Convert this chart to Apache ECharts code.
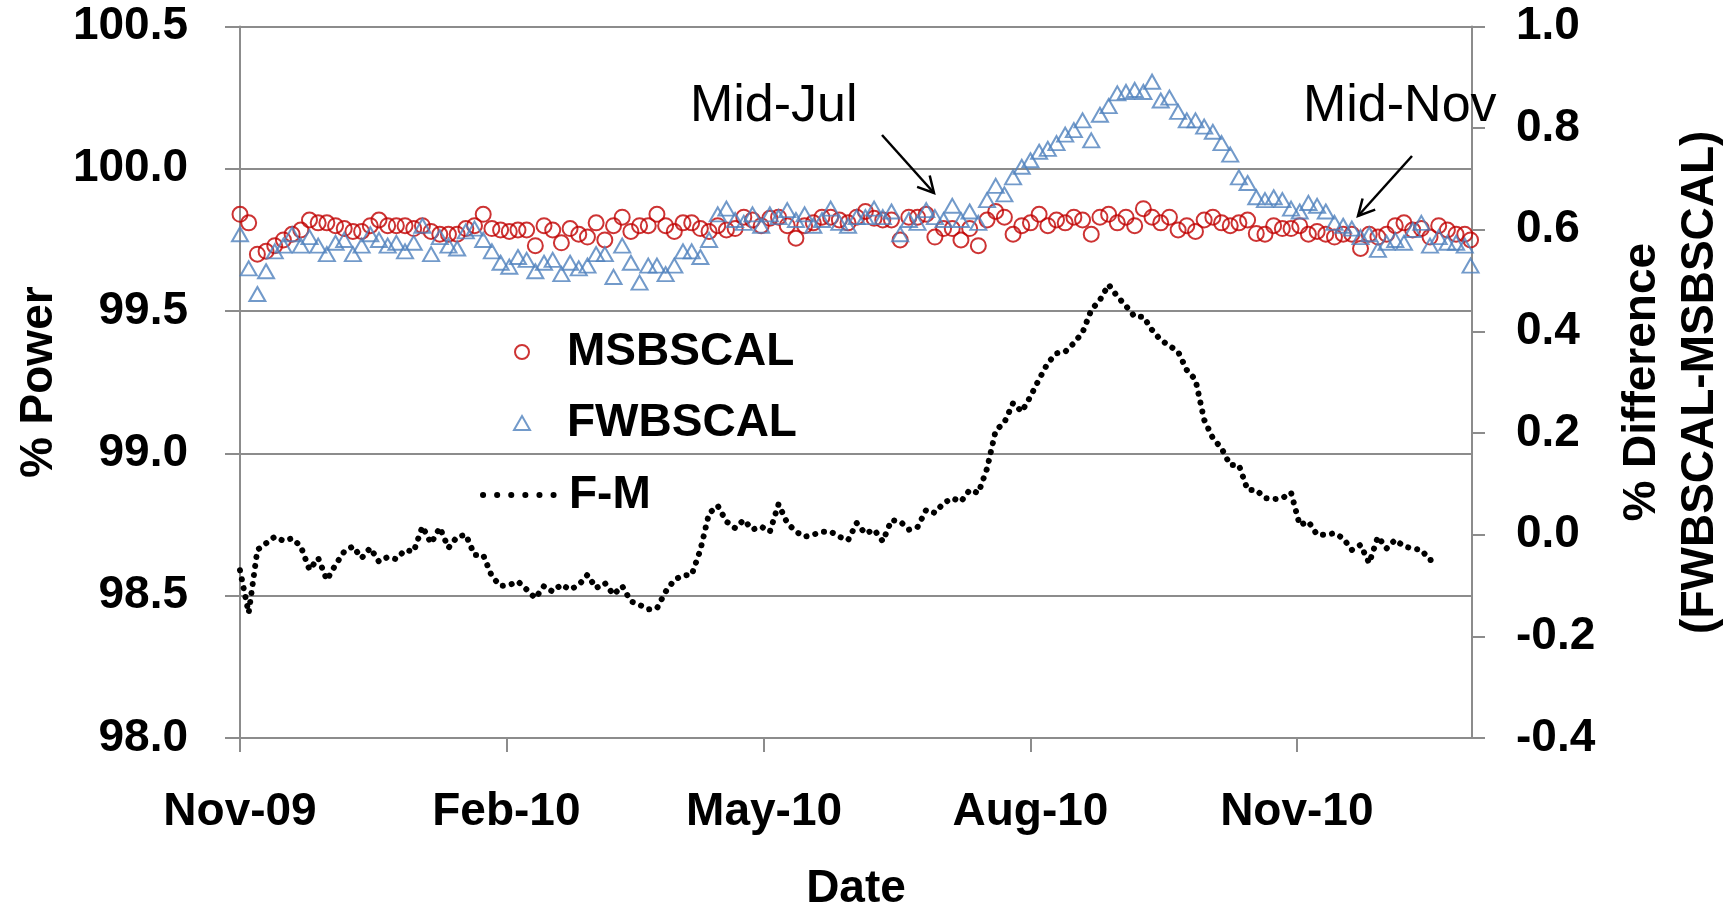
<!DOCTYPE html>
<html>
<head>
<meta charset="utf-8">
<script src="https://cdn.jsdelivr.net/npm/echarts@6/dist/echarts.min.js"></script>
<style>
html,body{margin:0;padding:0;background:#fff;}
#chart{width:1736px;height:909px;}
</style>
</head>
<body>
<div id="chart"></div>
<script>
// ---- data ----
const dates = [
'2009-11-01','2009-11-04','2009-11-07','2009-11-10','2009-11-13','2009-11-16','2009-11-19','2009-11-22','2009-11-25','2009-11-28',
'2009-12-01','2009-12-04','2009-12-07','2009-12-10','2009-12-13','2009-12-16','2009-12-19','2009-12-22','2009-12-25','2009-12-28','2009-12-31',
'2010-01-03','2010-01-06','2010-01-09','2010-01-12','2010-01-15','2010-01-18','2010-01-21','2010-01-24','2010-01-27','2010-01-30',
'2010-02-02','2010-02-05','2010-02-08','2010-02-11','2010-02-14','2010-02-17','2010-02-20','2010-02-23','2010-02-26',
'2010-03-01','2010-03-04','2010-03-07','2010-03-10','2010-03-13','2010-03-16','2010-03-19','2010-03-22','2010-03-25','2010-03-28','2010-03-31',
'2010-04-03','2010-04-06','2010-04-09','2010-04-12','2010-04-15','2010-04-18','2010-04-21','2010-04-24','2010-04-27','2010-04-30',
'2010-05-03','2010-05-06','2010-05-09','2010-05-12','2010-05-15','2010-05-18','2010-05-21','2010-05-24','2010-05-27','2010-05-30',
'2010-06-02','2010-06-05','2010-06-08','2010-06-11','2010-06-14','2010-06-17','2010-06-20','2010-06-23','2010-06-26','2010-06-29',
'2010-07-02','2010-07-05','2010-07-08','2010-07-11','2010-07-14','2010-07-17','2010-07-20','2010-07-23','2010-07-26','2010-07-29',
'2010-08-01','2010-08-04','2010-08-07','2010-08-10','2010-08-13','2010-08-16','2010-08-19','2010-08-22','2010-08-25','2010-08-28','2010-08-31',
'2010-09-03','2010-09-06','2010-09-09','2010-09-12','2010-09-15','2010-09-18','2010-09-21','2010-09-24','2010-09-27','2010-09-30',
'2010-10-03','2010-10-06','2010-10-09','2010-10-12','2010-10-15','2010-10-18','2010-10-21','2010-10-24','2010-10-27','2010-10-30',
'2010-11-02','2010-11-05','2010-11-08','2010-11-11','2010-11-14','2010-11-17','2010-11-20','2010-11-23','2010-11-26','2010-11-29',
'2010-12-02','2010-12-05','2010-12-08','2010-12-11','2010-12-14','2010-12-17','2010-12-20','2010-12-23','2010-12-26','2010-12-29','2010-12-31'
];

const msbscal = [
99.84,99.81,99.70,99.71,99.73,99.75,99.77,99.785,99.82,99.81,
99.81,99.80,99.79,99.78,99.78,99.80,99.82,99.80,99.80,99.80,99.79,
99.80,99.78,99.77,99.77,99.77,99.79,99.80,99.84,99.79,99.785,
99.78,99.785,99.785,99.73,99.80,99.785,99.74,99.79,99.77,
99.76,99.81,99.75,99.80,99.83,99.78,99.80,99.80,99.84,99.80,99.78,
99.81,99.81,99.79,99.78,99.80,99.785,99.79,99.83,99.82,99.80,
99.826,99.83,99.80,99.756,99.80,99.81,99.83,99.83,99.82,99.81,
99.83,99.85,99.826,99.82,99.82,99.75,99.83,99.83,99.84,99.76,
99.79,99.79,99.75,99.79,99.73,99.82,99.85,99.83,99.77,99.80,
99.81,99.84,99.80,99.82,99.81,99.83,99.82,99.77,99.83,99.84,99.81,
99.83,99.80,99.86,99.83,99.81,99.83,99.785,99.80,99.78,99.82,
99.83,99.81,99.80,99.81,99.82,99.773,99.77,99.80,99.79,99.79,
99.80,99.77,99.78,99.77,99.76,99.77,99.77,99.72,99.77,99.76,
99.77,99.80,99.81,99.785,99.79,99.76,99.80,99.785,99.77,99.77,99.75
];

const fwbscal = [
99.77,99.65,99.56,99.64,99.71,99.73,99.77,99.73,99.76,99.73,
99.70,99.74,99.75,99.70,99.73,99.77,99.75,99.73,99.74,99.71,99.74,
99.80,99.70,99.76,99.73,99.72,99.78,99.79,99.75,99.71,99.67,
99.656,99.69,99.68,99.64,99.67,99.68,99.63,99.67,99.65,
99.66,99.70,99.70,99.62,99.73,99.67,99.60,99.66,99.66,99.63,99.66,
99.71,99.71,99.69,99.75,99.84,99.86,99.82,99.81,99.84,99.80,
99.84,99.83,99.855,99.82,99.84,99.80,99.82,99.86,99.81,99.80,
99.83,99.83,99.86,99.83,99.85,99.77,99.82,99.81,99.855,99.83,
99.82,99.87,99.82,99.85,99.81,99.89,99.94,99.91,99.97,100.007,
100.03,100.06,100.07,100.09,100.12,100.136,100.17,100.10,100.19,100.22,100.265,
100.27,100.277,100.27,100.306,100.24,100.25,100.20,100.17,100.17,100.148,
100.13,100.09,100.05,99.97,99.95,99.90,99.89,99.90,99.89,99.86,
99.85,99.88,99.87,99.85,99.81,99.80,99.79,99.76,99.77,99.715,
99.74,99.75,99.74,99.785,99.81,99.73,99.76,99.74,99.74,99.73,99.66
];

const fMinusM = [
-0.07,-0.154,-0.03,-0.017,-0.004,-0.012,-0.007,-0.023,-0.069,-0.046,
-0.089,-0.059,-0.033,-0.023,-0.046,-0.026,-0.053,-0.044,-0.048,-0.030,-0.033,
0.016,-0.017,0.014,-0.026,-0.004,0.000,-0.040,-0.040,-0.082,-0.101,
-0.099,-0.092,-0.108,-0.125,-0.101,-0.112,-0.098,-0.108,-0.099,
-0.079,-0.105,-0.095,-0.118,-0.101,-0.131,-0.138,-0.147,-0.145,-0.112,-0.089,
-0.080,-0.079,-0.030,0.042,0.057,0.026,0.013,0.029,0.010,0.016,
0.006,0.060,0.023,0.006,-0.004,0.000,0.006,0.006,-0.004,-0.011,
0.023,0.002,0.010,-0.013,0.029,0.026,0.010,0.015,0.049,0.043,
0.062,0.072,0.065,0.088,0.082,0.130,0.205,0.221,0.259,0.242,
0.272,0.306,0.338,0.357,0.360,0.377,0.398,0.442,0.462,0.492,0.469,
0.450,0.429,0.429,0.403,0.383,0.372,0.360,0.324,0.305,0.226,
0.190,0.170,0.137,0.137,0.088,0.088,0.072,0.070,0.072,0.083,
0.019,0.026,0.000,0.000,0.003,-0.007,-0.030,-0.020,-0.056,-0.004,
-0.027,-0.010,-0.023,-0.027,-0.030,-0.050,-0.046,null,null,null,null
];

const tickDates  = ['2009-11-01','2010-02-01','2010-05-01','2010-08-01','2010-11-01'];
const tickLabels = ['Nov-09','Feb-10','May-10','Aug-10','Nov-10'];
const axisStart = '2009-11-01T00:00:00Z';
const axisEnd   = '2010-12-31T12:00:00Z';

// ---- chart ----
const FONT = 'Liberation Sans';
const GRAY = '#8C8C8C';
const ts = s => Date.parse(s.length === 10 ? s + 'T00:00:00Z' : s);
const tickTs = tickDates.map(ts);

const chart = echarts.init(document.getElementById('chart'), null, {renderer: 'canvas'});
const labelBase = {color: '#000', fontFamily: FONT, fontWeight: 'bold', fontSize: 46};

chart.setOption({
  animation: false,
  backgroundColor: '#fff',
  grid: {left: 240, right: 264, top: 26.5, bottom: 171, containLabel: false, outerBoundsMode: 'none'},
  legend: [
    {
      orient: 'vertical', left: 513, top: 329, padding: 0, itemGap: 25,
      itemWidth: 16, itemHeight: 14, selectedMode: false,
      textStyle: Object.assign({}, labelBase, {lineHeight: 46, padding: [0, 0, 0, 32]}),
      data: [
        {name: 'MSBSCAL', icon: 'circle', itemStyle: {color: 'rgba(0,0,0,0)', borderColor: '#C00000', borderWidth: 2}},
        {name: 'FWBSCAL', icon: 'triangle', itemStyle: {color: 'rgba(0,0,0,0)', borderColor: '#4F81BD', borderWidth: 2}}
      ]
    },
    {
      orient: 'vertical', left: 480, top: 472, padding: 0,
      itemWidth: 75, itemHeight: 14, selectedMode: false,
      textStyle: Object.assign({}, labelBase, {lineHeight: 46, padding: [0, 0, 0, 6]}),
      data: [
        {name: 'F-M', itemStyle: {color: 'rgba(0,0,0,0)', borderColor: 'rgba(0,0,0,0)', borderWidth: 0},
         lineStyle: {color: '#000', width: 6, type: [0.1, 14], cap: 'round'}}
      ]
    }
  ],
  xAxis: {
    type: 'value', min: ts(axisStart), max: ts(axisEnd), scale: true,
    name: 'Date', nameLocation: 'middle', nameGap: 128,
    nameTextStyle: Object.assign({}, labelBase, {lineHeight: 46}),
    axisLine: {show: true, onZero: false, lineStyle: {color: GRAY, width: 2}},
    axisTick: {show: true, length: 14, lineStyle: {color: GRAY, width: 2}, customValues: tickTs},
    axisLabel: Object.assign({}, labelBase, {
      margin: 51, lineHeight: 46, customValues: tickTs, hideOverlap: false,
      formatter: v => { const i = tickTs.indexOf(+v); return i >= 0 ? tickLabels[i] : ''; }
    }),
    splitLine: {show: false}
  },
  yAxis: [
    {
      type: 'value', min: 98, max: 100.5, interval: 0.5, position: 'left',
      name: '% Power', nameLocation: 'middle', nameRotate: 90, nameGap: 174,
      nameTextStyle: Object.assign({}, labelBase, {lineHeight: 46}),
      axisLine: {show: true, onZero: false, lineStyle: {color: GRAY, width: 2}},
      axisTick: {show: true, length: 15, lineStyle: {color: GRAY, width: 2}},
      axisLabel: Object.assign({}, labelBase, {margin: 52, formatter: v => v.toFixed(1)}),
      splitLine: {show: true, lineStyle: {color: GRAY, width: 2}}
    },
    {
      type: 'value', min: -0.4, max: 1.0, interval: 0.2, position: 'right',
      name: '% Difference\n(FWBSCAL-MSBSCAL)', nameLocation: 'middle', nameRotate: 90, nameGap: 141,
      nameTextStyle: Object.assign({}, labelBase, {lineHeight: 58}),
      axisLine: {show: true, onZero: false, lineStyle: {color: GRAY, width: 2}},
      axisTick: {show: true, length: 13, lineStyle: {color: GRAY, width: 2}},
      axisLabel: Object.assign({}, labelBase, {margin: 44, formatter: v => (Math.abs(v) < 1e-9 ? 0 : v).toFixed(1)}),
      splitLine: {show: false}
    }
  ],
  series: [
    {
      name: 'MSBSCAL', type: 'scatter', yAxisIndex: 0,
      symbol: 'circle', symbolSize: 15,
      itemStyle: {color: 'rgba(0,0,0,0)', borderColor: '#C00000', borderWidth: 2},
      emphasis: {disabled: true},
      data: dates.map((d, i) => [ts(d), msbscal[i]])
    },
    {
      name: 'FWBSCAL', type: 'scatter', yAxisIndex: 0,
      symbol: 'triangle', symbolSize: [16, 14],
      itemStyle: {color: 'rgba(0,0,0,0)', borderColor: '#4F81BD', borderWidth: 2},
      emphasis: {disabled: true},
      data: dates.map((d, i) => [ts(d), fwbscal[i]])
    },
    {
      name: 'F-M', type: 'line', yAxisIndex: 1,
      showSymbol: false, symbol: 'none', connectNulls: false,
      itemStyle: {color: '#000'},
      lineStyle: {color: '#000', width: 6, type: [0.1, 9], cap: 'round', join: 'round'},
      emphasis: {disabled: true},
      data: dates.map((d, i) => [ts(d), fMinusM[i]])
    }
  ],
  graphic: [
    {type: 'text', x: 690, y: 107, z: 100,
     style: {text: 'Mid-Jul', fontSize: 52, fontFamily: FONT, fill: '#000', align: 'left', verticalAlign: 'middle'}},
    {type: 'text', x: 1303, y: 107, z: 100,
     style: {text: 'Mid-Nov', fontSize: 52, fontFamily: FONT, fill: '#000', align: 'left', verticalAlign: 'middle'}},
    {type: 'polyline', z: 100, shape: {points: [[882, 135], [934, 193]]}, style: {stroke: '#000', lineWidth: 2.5, fill: null}},
    {type: 'polyline', z: 100, shape: {points: [[929.7, 175.5], [934, 193], [917.1, 186.8]]}, style: {stroke: '#000', lineWidth: 2.5, fill: null}},
    {type: 'polyline', z: 100, shape: {points: [[1412, 156], [1358, 216]]}, style: {stroke: '#000', lineWidth: 2.5, fill: null}},
    {type: 'polyline', z: 100, shape: {points: [[1375.2, 209.7], [1358, 216], [1362.6, 198.5]]}, style: {stroke: '#000', lineWidth: 2.5, fill: null}}
  ]
});
</script>
</body>
</html>
